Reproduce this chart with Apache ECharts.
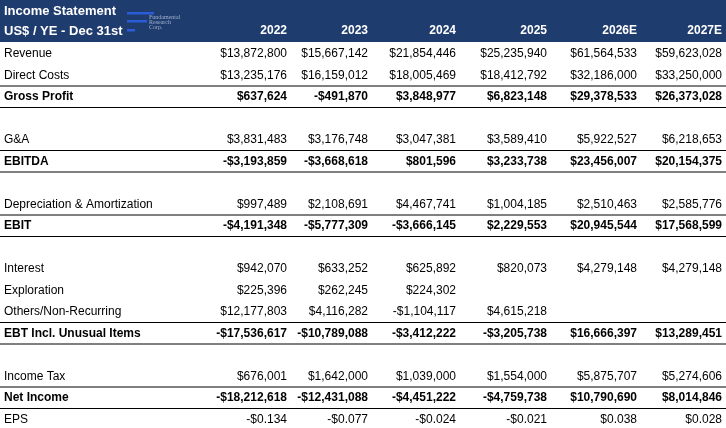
<!DOCTYPE html>
<html lang="en">
<head>
    <meta charset="UTF-8">
    <title>Income Statement</title>
    <script src="https://cdn.jsdelivr.net/npm/echarts@6/dist/echarts.min.js"></script>
    <style>body{margin:0;background:#fff}</style>
</head>
<body>
<div id="main" style="width:726px;height:428px;"></div>
<script>
    var years = ["2022", "2023", "2024", "2025", "2026E", "2027E"];
    // 列右边界
    var colRight = [287, 368, 456, 547, 637, 722];
    // [label, bold, values]
    var rows = [
        ["Revenue", false, ["$13,872,800", "$15,667,142", "$21,854,446", "$25,235,940", "$61,564,533", "$59,623,028"]],
        ["Direct Costs", false, ["$13,235,176", "$16,159,012", "$18,005,469", "$18,412,792", "$32,186,000", "$33,250,000"]],
        ["Gross Profit", true, ["$637,624", "-$491,870", "$3,848,977", "$6,823,148", "$29,378,533", "$26,373,028"]],
        null,
        ["G&A", false, ["$3,831,483", "$3,176,748", "$3,047,381", "$3,589,410", "$5,922,527", "$6,218,653"]],
        ["EBITDA", true, ["-$3,193,859", "-$3,668,618", "$801,596", "$3,233,738", "$23,456,007", "$20,154,375"]],
        null,
        ["Depreciation & Amortization", false, ["$997,489", "$2,108,691", "$4,467,741", "$1,004,185", "$2,510,463", "$2,585,776"]],
        ["EBIT", true, ["-$4,191,348", "-$5,777,309", "-$3,666,145", "$2,229,553", "$20,945,544", "$17,568,599"]],
        null,
        ["Interest", false, ["$942,070", "$633,252", "$625,892", "$820,073", "$4,279,148", "$4,279,148"]],
        ["Exploration", false, ["$225,396", "$262,245", "$224,302", "", "", ""]],
        ["Others/Non-Recurring", false, ["$12,177,803", "$4,116,282", "-$1,104,117", "$4,615,218", "", ""]],
        ["EBT Incl. Unusual Items", true, ["-$17,536,617", "-$10,789,088", "-$3,412,222", "-$3,205,738", "$16,666,397", "$13,289,451"]],
        null,
        ["Income Tax", false, ["$676,001", "$1,642,000", "$1,039,000", "$1,554,000", "$5,875,707", "$5,274,606"]],
        ["Net Income", true, ["-$18,212,618", "-$12,431,088", "-$4,451,222", "-$4,759,738", "$10,790,690", "$8,014,846"]],
        ["EPS", false, ["-$0.134", "-$0.077", "-$0.024", "-$0.021", "$0.038", "$0.028"]]
    ];

    var font = "Liberation Sans, Arial, sans-serif";
    var top0 = 43, rowH = 21.5;
    var els = [];
    // 表头
    els.push({type: 'rect', shape: {x: 0, y: 0, width: 726, height: 42}, style: {fill: '#1f3c6e'}});
    els.push({type: 'text', x: 4, y: 11, style: {text: 'Income Statement', fill: '#fff', font: 'bold 13px ' + font, verticalAlign: 'middle'}});
    els.push({type: 'text', x: 4, y: 31, style: {text: 'US$ / YE - Dec 31st', fill: '#fff', font: 'bold 13px ' + font, verticalAlign: 'middle'}});
    // logo
    [[127, 12, 27], [127, 20, 20], [127, 29, 8]].forEach(function (b) {
        els.push({type: 'rect', shape: {x: b[0], y: b[1], width: b[2], height: 2.5}, style: {fill: '#2b5bd7'}});
    });
    els.push({type: 'text', x: 149, y: 22, style: {text: 'Fundamental\nResearch\nCorp.', fill: '#9fb0cc', font: '6px serif', lineHeight: 5, verticalAlign: 'middle'}});
    years.forEach(function (y, i) {
        els.push({type: 'text', x: colRight[i], y: 31, style: {text: y, fill: '#fff', font: 'bold 12px ' + font, align: 'right', verticalAlign: 'middle'}});
    });
    // 行
    rows.forEach(function (r, i) {
        if (!r) return;
        var cy = top0 + rowH * i + rowH / 2;
        var f = (r[1] ? 'bold ' : '') + '12px ' + font;
        if (r[1]) {
            els.push({type: 'line', shape: {x1: 0, y1: cy - rowH / 2, x2: 726, y2: cy - rowH / 2}, style: {stroke: '#000', lineWidth: 1}});
            els.push({type: 'line', shape: {x1: 0, y1: cy + rowH / 2, x2: 726, y2: cy + rowH / 2}, style: {stroke: '#000', lineWidth: 1}});
        }
        els.push({type: 'text', x: 4, y: cy, style: {text: r[0], fill: '#000', font: f, verticalAlign: 'middle'}});
        r[2].forEach(function (v, j) {
            els.push({type: 'text', x: colRight[j], y: cy, style: {text: v, fill: '#000', font: f, align: 'right', verticalAlign: 'middle'}});
        });
    });

    var myChart = echarts.init(document.getElementById('main'));
    myChart.setOption({animation: false, graphic: {elements: els}});
</script>
</body>
</html>
